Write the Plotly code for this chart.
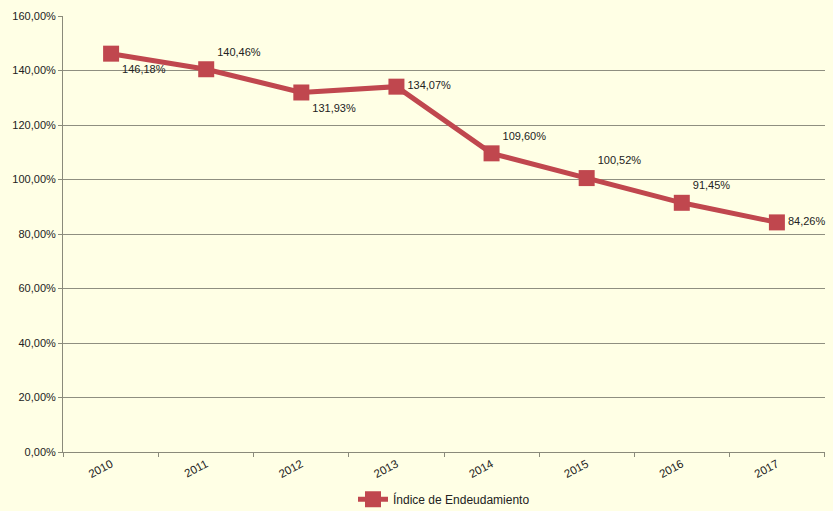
import plotly.graph_objects as go

years = ["2010", "2011", "2012", "2013", "2014", "2015", "2016", "2017"]
values = [146.18, 140.46, 131.93, 134.07, 109.60, 100.52, 91.45, 84.26]
label_pos = ["bottom right", "top right", "bottom right", "middle right",
             "top right", "top right", "top right", "middle right"]
y_ticks = [0, 20, 40, 60, 80, 100, 120, 140, 160]
series_name = "Índice de Endeudamiento"

labels = [f"{v:.2f}%".replace(".", ",") for v in values]
tick_text = [f"{v:.2f}%".replace(".", ",") for v in y_ticks]

red = "#C0474E"
fig = go.Figure()
fig.add_trace(go.Scatter(
    x=years, y=values, mode="lines+markers+text", name=series_name,
    line=dict(color=red, width=5),
    marker=dict(symbol="square", size=16, color=red),
    text=labels, textposition=label_pos,
    textfont=dict(family="Liberation Sans, Arial", size=11, color="#222222"),
    cliponaxis=False,
))

fig.update_layout(
    width=833, height=511,
    margin=dict(l=63, r=8, t=16, b=59, autoexpand=False),
    paper_bgcolor="#FFFFE5", plot_bgcolor="#FFFFE5",
    font=dict(family="Liberation Sans, Arial", size=11, color="#222222"),
    showlegend=True,
    legend=dict(orientation="h", x=0.5, xanchor="center", y=-0.075, yanchor="top",
                font=dict(size=12, color="#222222"), bgcolor="rgba(0,0,0,0)"),
    xaxis=dict(type="category", showgrid=False, showline=True, linecolor="#8a8a7a",
               linewidth=1, ticks="outside", tickcolor="#8a8a7a", ticklen=4,
               tickson="boundaries", tickangle=-28, mirror=False, automargin=False,
               tickfont=dict(size=11.5)),
    yaxis=dict(range=[0, 160], tickvals=y_ticks, ticktext=tick_text,
               showgrid=True, gridcolor="#8f8f80", gridwidth=1,
               showline=True, linecolor="#8a8a7a", linewidth=1,
               ticks="outside", tickcolor="#8a8a7a", ticklen=4, automargin=False,
               zeroline=False, tickfont=dict(size=11)),
)

fig.write_html("out.html", config={"displayModeBar": False})

# remove the browser's default page margin so the figure fills the window
with open("out.html", "r", encoding="utf-8") as f:
    html = f.read()
html = html.replace("<body>", '<body style="margin:0;padding:0;overflow:hidden;background:#FFFFE5">', 1)
with open("out.html", "w", encoding="utf-8") as f:
    f.write(html)
